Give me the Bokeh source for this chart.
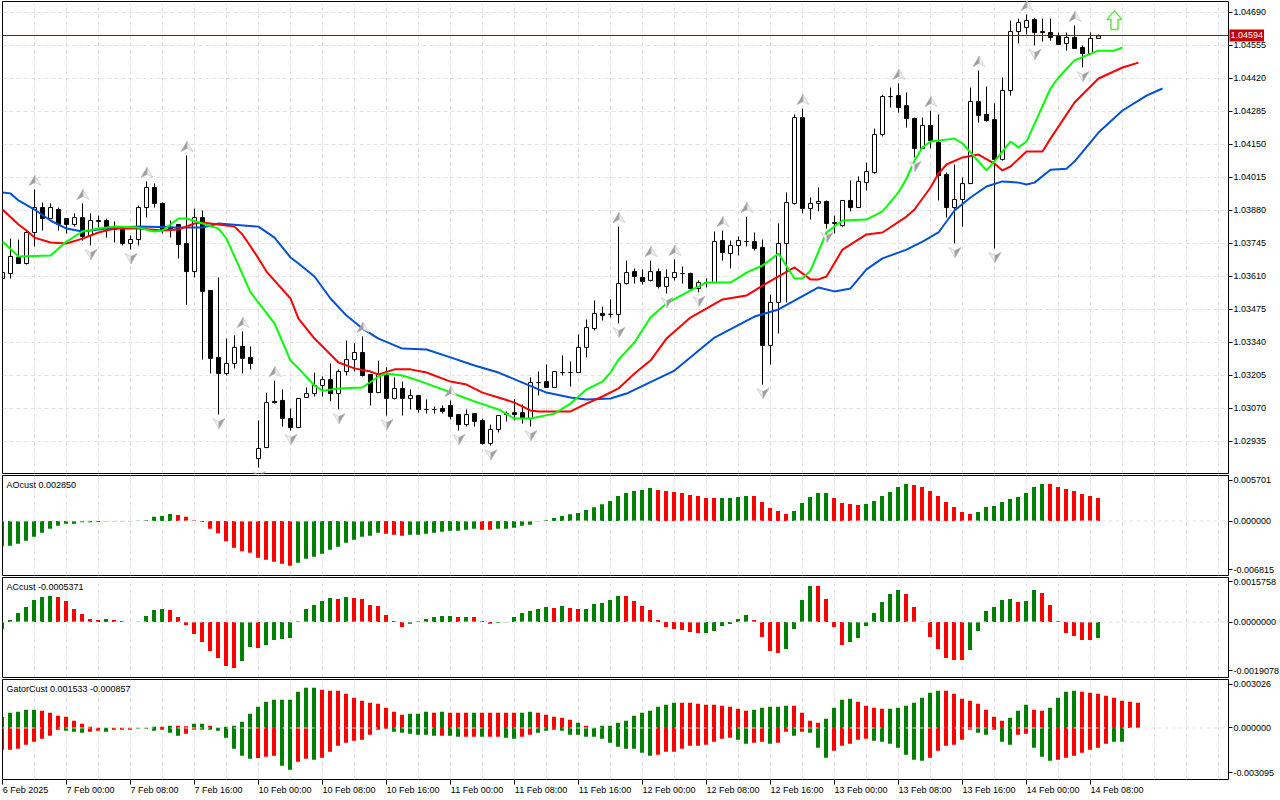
from bokeh.plotting import figure
from bokeh.layouts import column
from bokeh.models import Range1d, FixedTicker, Span, Label, PrintfTickFormatter, LinearAxis
from bokeh.embed import file_html
from bokeh.resources import INLINE

FONT = "Liberation Sans"
FS = "9px"
UP, DOWN = "#008000", "#ff0000"

tick_labels = ["6 Feb 2025", "7 Feb 00:00", "7 Feb 08:00", "7 Feb 16:00", "10 Feb 00:00", "10 Feb 08:00",
               "10 Feb 16:00", "11 Feb 00:00", "11 Feb 08:00", "11 Feb 16:00", "12 Feb 00:00", "12 Feb 08:00",
               "12 Feb 16:00", "13 Feb 00:00", "13 Feb 08:00", "13 Feb 16:00", "14 Feb 00:00", "14 Feb 08:00"]
tick_bars = list(range(0, 137, 8))
grid_bars = list(range(4, 153, 4))
price_ticks = [1.02935, 1.03070, 1.03205, 1.03340, 1.03475, 1.03610, 1.03745, 1.03880, 1.04015, 1.04150,
               1.04285, 1.04420, 1.04555, 1.04690]
last_price = 1.04594
last_line = 1.04596

open_pts = [103602,103622,103688,103663,103790,103892,103847,103884,103847,103823,
 103851,103778,103835,103839,103806,103806,103745,103761,103892,103974,
 103909,103810,103823,103745,103630,103851,103553,103279,103213,103254,
 103324,103279,102865,102910,103099,103103,103029,102992,103115,103131,
 103164,103188,103131,103221,103270,103299,103209,103135,103209,103111,
 103152,103111,103123,103066,103066,103070,103082,103045,103004,103049,
 103021,102927,102984,103045,103053,103053,103029,103176,103180,103156,
 103217,103217,103217,103320,103397,103459,103455,103455,103581,103630,
 103606,103594,103630,103569,103606,103622,103622,103561,103585,103585,
 103757,103704,103737,103753,103753,103729,103328,103504,103745,103909,
 104260,103888,103909,103917,103827,103818,103921,103892,103994,104035,
 104191,104346,104350,104309,104256,104134,104228,104158,104027,103892,
 103925,103990,104326,104273,104252,104089,104371,104612,104629,104661,
 104612,104608,104592,104563,104588,104547,104522,104584]
close_pts = [103626,103692,103663,103790,103892,103847,103892,103823,103823,103851,
 103774,103839,103839,103806,103802,103745,103761,103892,103974,103909,
 103798,103806,103741,103630,103851,103549,103275,103213,103254,103320,
 103275,103254,102906,103094,103094,103029,102992,103111,103131,103164,
 103188,103131,103221,103270,103299,103205,103135,103209,103111,103152,
 103111,103123,103066,103066,103066,103058,103037,103004,103045,103017,
 102927,102984,103041,103049,103045,103029,103176,103176,103156,103221,
 103217,103217,103320,103401,103459,103450,103455,103581,103626,103610,
 103590,103630,103569,103606,103626,103622,103561,103585,103585,103753,
 103708,103737,103757,103753,103725,103328,103504,103745,103913,104260,
 103888,103909,103917,103827,103831,103921,103892,103999,104039,104191,
 104346,104346,104301,104256,104134,104228,104166,104023,103892,103925,
 103990,104326,104269,104248,104089,104371,104612,104649,104657,104608,
 104608,104588,104559,104588,104543,104522,104584,104594]
high_pts = [103634,103765,103761,103798,103966,103913,103909,103892,103847,103868,
 103909,103868,103859,103847,103835,103814,103778,103900,103999,103990,
 103913,103839,103823,104105,103888,103880,103553,103606,103356,103369,
 103385,103324,103021,103135,103184,103148,103070,103111,103156,103217,
 103201,103254,103230,103348,103336,103365,103209,103266,103238,103197,
 103180,103148,103123,103107,103078,103082,103103,103045,103066,103049,
 103029,103004,103041,103058,103107,103086,103197,103221,103250,103221,
 103287,103262,103373,103434,103512,103487,103516,103814,103675,103643,
 103639,103675,103643,103639,103680,103651,103626,103594,103602,103794,
 103798,103757,103774,103855,103790,103761,103536,103827,103954,104273,
 104297,103933,103974,103921,103859,103921,104003,104019,104076,104215,
 104354,104383,104400,104363,104260,104260,104289,104273,104035,104068,
 104015,104383,104453,104387,104318,104424,104657,104665,104682,104669,
 104665,104665,104608,104608,104637,104555,104608,104600]
low_pts = [103594,103602,103663,103659,103733,103798,103847,103798,103786,103814,
 103757,103737,103810,103769,103749,103737,103720,103737,103851,103892,
 103786,103769,103684,103495,103606,103270,103213,103045,103205,103234,
 103213,103230,102828,102910,103090,102996,102980,102992,103115,103119,
 103119,103099,103066,103205,103221,103201,103082,103135,103041,103107,
 103041,103066,103053,103049,103049,103049,103025,102980,102996,102996,
 102923,102918,102972,103017,103021,103008,102996,103123,103156,103156,
 103205,103160,103217,103279,103389,103430,103442,103418,103577,103581,
 103577,103590,103561,103540,103594,103581,103557,103545,103565,103585,
 103675,103643,103696,103733,103716,103168,103250,103377,103504,103904,
 103868,103843,103876,103806,103786,103814,103876,103892,103962,104031,
 104183,104301,104281,104219,104097,104134,104134,103921,103851,103745,
 103814,103990,104240,104244,103725,104084,104350,104563,104600,104555,
 104571,104575,104559,104534,104543,104465,104522,104584]

jaw_bar = [0,1,2,4,6,8,10,13,17,22,25,27,32,34,36,37,39,41,43,45,47,50,53,56,59,62,65,68,71,73,76,78,84,89,94,97,
 102,104,106,108,110,113,115,117,119,121,123,125,127,128,129,131,133,134,137,140,143,145]
jaw_pts = [103954,103950,103921,103884,103839,103806,103794,103806,103814,103810,103810,103827,103814,103769,103688,
 103663,103610,103520,103450,103397,103356,103315,103311,103279,103246,103217,103176,103135,103115,103107,103111,
 103131,103225,103360,103446,103475,103565,103549,103561,103639,103684,103720,103753,103790,103880,103933,103978,
 103999,103994,103986,103994,104047,104051,104080,104199,104289,104350,104379]
teeth_bar = [0,2,3,4,6,8,10,12,14,17,20,22,24,25,29,30,32,33,36,37,38,39,41,42,44,46,47,49,51,53,56,58,60,62,64,66,67,
 71,73,75,77,79,81,83,86,90,93,95,97,99,101,102,103,105,108,110,113,114,116,117,118,120,122,124,125,126,128,130,131,
 134,137,140,142]
teeth_pts = [103884,103823,103798,103769,103749,103745,103765,103790,103806,103806,103798,103802,103827,103831,103814,
 103782,103684,103630,103520,103438,103397,103356,103291,103258,103234,103221,103209,103230,103230,103217,103180,
 103168,103135,103115,103094,103062,103058,103058,103090,103119,103152,103213,103266,103356,103442,103516,103532,
 103573,103610,103647,103598,103598,103610,103720,103782,103790,103855,103884,103974,104031,104068,104097,104109,
 104072,104044,104060,104121,104121,104174,104322,104420,104465,104485]
lips_bar = [0,2,6,8,10,12,14,17,19,20,22,23,25,27,28,29,31,34,36,37,39,40,42,45,47,48,50,52,55,57,59,62,64,66,69,71,73,
 75,76,77,79,81,83,86,88,91,93,95,97,99,100,101,103,105,108,110,112,113,114,115,116,119,120,123,124,126,127,128,131,
 132,134,137,139,140]
lips_pts = [103753,103692,103696,103753,103794,103806,103814,103810,103794,103798,103847,103847,103827,103806,103765,
 103692,103545,103418,103266,103234,103164,103143,103152,103156,103201,103213,103205,103184,103148,103123,103099,
 103066,103029,103029,103049,103090,103148,103180,103217,103270,103340,103442,103500,103553,103585,103585,103626,
 103655,103704,103602,103602,103634,103790,103839,103843,103876,103954,104011,104084,104138,104162,104174,104154,
 104044,104081,104162,104138,104162,104379,104424,104494,104534,104534,104547]

fractal_up_bars = [4,10,18,23,30,34,45,56,77,81,84,90,93,100,112,116,122,128,134]
fractal_down_bars = [11,16,27,32,36,42,48,57,61,66,77,83,87,95,103,114,119,124,129,135]
signal_bar = [139]
signal_pts = [104620]

ao_micro = [-3547,-3453,-3173,-2753,-2193,-1633,-1073,-653,-373,-373,-187,-187,-140,-47,-47,-47,-20,30,93,607,700,980,
 840,607,93,-140,-1073,-1727,-2847,-3733,-4247,-4433,-5133,-5413,-5693,-5973,-6253,-5833,-5273,-4993,-4573,-4013,
 -3593,-3033,-2613,-2193,-2053,-1633,-1773,-1913,-2053,-1913,-1913,-1773,-1633,-1493,-1353,-1353,-1213,-1073,-1213,
 -1213,-1073,-1073,-933,-653,-513,-47,93,420,700,933,1120,1540,1913,2333,2800,3500,3920,4200,4340,4620,4340,4200,
 4060,3920,3640,3500,3220,3220,3220,3220,3360,3500,3500,2660,1820,1400,980,1400,2520,3360,3920,3920,3220,2520,2380,
 2240,2380,2800,3500,4060,4760,5180,5040,4760,4200,3500,2660,1960,1260,980,1260,1960,2100,2660,3080,3360,3920,4760,
 5180,5180,4760,4480,4200,3780,3500,3220]
ao_runs = [("g",15),("r",2),("g",5),("r",15),("g",11),("r",3),("g",9),("r",2),("g",20),("r",8),("g",4),("r",5),("g",5),
 ("r",4),("g",6),("r",8),("g",9),("r",7)]

ac_micro = [-273,78,351,585,858,975,1014,975,819,507,312,117,78,117,78,39,0,13,234,468,507,468,195,-117,-468,-780,-1131,
 -1404,-1716,-1794,-1521,-975,-1014,-897,-702,-663,-624,26,507,663,819,936,897,975,936,897,663,624,273,39,-195,-65,
 26,117,195,234,234,195,195,195,39,-65,-26,-13,195,351,429,507,585,546,624,546,507,507,702,741,858,1014,1014,819,624,
 468,78,-195,-273,-312,-390,-429,-429,-351,-156,-78,117,273,78,-585,-1131,-1209,-1053,-273,858,1404,1404,897,-195,
 -897,-780,-624,-156,351,780,1092,1248,1092,585,13,-585,-1053,-1404,-1482,-1482,-1092,-351,429,585,858,897,780,819,
 1248,1131,663,26,-429,-546,-702,-702,-624]
ac_runs = [("g",7),("r",6),("g",1),("r",3),("g",4),("r",9),("g",2),("r",1),("g",9),("r",1),("g",1),("r",7),("g",6),
 ("r",1),("g",1),("r",3),("g",7),("r",1),("g",1),("r",2),("g",5),("r",10),("g",6),("r",4),("g",4),("r",4),("g",7),
 ("r",8),("g",6),("r",1),("g",2),("r",7),("g",1)]

gator_up_micro = [762,1063,1132,1271,1271,1201,1063,855,785,508,300,92,23,23,23,23,23,23,23,92,92,162,162,116,300,300,
 162,23,92,162,439,993,1478,1825,1964,1964,1964,2518,2795,2795,2657,2587,2587,2379,2102,1894,1756,1686,1409,1132,924,
 993,993,1132,1063,1132,1063,1063,1063,1063,1063,1063,1063,1063,1063,1063,1132,1063,924,785,716,578,370,162,23,162,
 162,370,508,855,1063,1201,1478,1617,1756,1756,1756,1686,1617,1617,1548,1478,1340,1201,1271,1409,1478,1478,1548,1548,
 1063,508,370,647,1409,1964,2033,1825,1548,1409,1340,1340,1409,1548,1756,2102,2449,2587,2587,2379,2033,1894,1686,
 1271,785,508,716,1201,1617,1271,1201,1409,2102,2518,2587,2518,2449,2379,2241,2102,1894,1825,1756]
gator_up_runs = [("g",5),("r",14),("g",1),("r",1),("g",1),("r",2),("g",2),("r",1),("g",13),("r",11),("g",3),("r",1),
 ("g",1),("r",3),("g",1),("r",5),("g",2),("r",5),("g",1),("r",1),("g",11),("r",9),("g",5),("r",4),("g",4),("r",4),
 ("g",7),("r",8),("g",3),("r",2),("g",4),("r",8)]
gator_down_micro = [-1502,-1502,-1432,-1155,-947,-739,-531,-116,-185,-254,-323,-254,-185,-254,-116,-116,-116,-46,-46,
 -185,-116,-323,-531,-393,-116,-116,-116,-185,-670,-1432,-1917,-2125,-2079,-1987,-1917,-2610,-2888,-2333,-2125,-2195,
 -2056,-1640,-1224,-1016,-878,-809,-462,-116,-46,-254,-323,-393,-462,-462,-531,-531,-531,-601,-601,-601,-601,-601,
 -601,-670,-739,-601,-462,-323,-185,-116,-185,-462,-462,-601,-601,-739,-1016,-1294,-1432,-1432,-1709,-1917,-1848,
 -1640,-1640,-1432,-1224,-1224,-1155,-947,-739,-670,-809,-1086,-1016,-947,-1086,-1016,-254,-531,-254,-323,-1363,
 -2056,-1571,-1224,-1086,-809,-739,-878,-947,-1086,-1363,-1848,-2195,-2264,-2056,-1571,-1224,-1155,-809,-116,-323,
 -462,-116,-947,-1155,-462,-393,-1363,-1987,-2264,-2195,-2056,-1917,-1709,-1502,-1363,-1086,-947,-947]
gator_down_runs = [("r",8),("g",3),("r",2),("g",1),("r",3),("g",3),("r",1),("g",2),("r",2),("g",7),("r",3),("g",2),("r",2),
 ("g",1),("r",9),("g",6),("r",1),("g",2),("r",2),("g",1),("r",2),("g",2),("r",2),("g",2),("r",1),("g",12),("r",10),
 ("g",2),("r",2),("g",1),("r",2),("g",1),("r",1),("g",3),("r",5),("g",7),("r",6),("g",2),("r",1),("g",2),("r",2),
 ("g",3),("r",7),("g",2)]


def expand(runs):
    out = []
    for c, n in runs:
        out += [UP if c == "g" else DOWN] * n
    return out


PX_PER_BAR = 8.0
x_range = Range1d(0.0, 153.25)


def panel(height, y_range, top=1, bottom=1):
    p = figure(frame_width=1226, frame_height=height - top - bottom, x_range=x_range, y_range=y_range,
               output_backend="svg", toolbar_location=None, x_axis_location=None, y_axis_location="right",
               min_border_left=2, min_border_right=52, min_border_top=top, min_border_bottom=bottom)
    p.outline_line_color = "black"
    p.outline_line_width = 1
    p.background_fill_color = "white"
    p.xgrid.ticker = FixedTicker(ticks=grid_bars)
    p.xgrid.grid_line_color = "#e3e3e3"
    p.xgrid.grid_line_dash = "4 3"
    p.ygrid.grid_line_color = None
    ax = p.yaxis[0]
    ax.axis_line_color = None
    ax.major_tick_line_color = "black"
    ax.major_tick_in = 0
    ax.major_tick_out = 4
    ax.minor_tick_line_color = None
    ax.major_label_standoff = 1
    ax.major_label_text_font = FONT
    ax.major_label_text_font_size = FS
    ax.major_label_text_color = "black"
    return p


def caption(p, text, y):
    p.add_layout(Label(x=4, y=y, x_units="screen", y_units="screen", text=text, text_font=FONT,
                       text_font_size=FS, text_color="black", text_baseline="middle"))


def zero_line(p):
    p.add_layout(Span(location=0, dimension="width", line_color="#e3e3e3", line_dash="4 3", line_width=1,
                      level="overlay"))


def bars(p, values, colors):
    bx = [i - 0.0625 for i in range(len(values))]
    p.vbar(x=bx, top=[v * 1e-6 for v in values], bottom=0, width=0.5, fill_color=colors, line_color=None)


# ---- main price panel
main_range = Range1d(1.02804, 1.04735)
p1 = panel(474, main_range)
ax = p1.yaxis[0]
ax.ticker = FixedTicker(ticks=price_ticks)
ax.formatter = PrintfTickFormatter(format="%.5f")
p1.ygrid.ticker = FixedTicker(ticks=price_ticks)
p1.ygrid.grid_line_color = "#e3e3e3"
p1.ygrid.grid_line_dash = "4 3"

opens = [v / 1e5 for v in open_pts]
closes = [v / 1e5 for v in close_pts]
highs = [v / 1e5 for v in high_pts]
lows = [v / 1e5 for v in low_pts]
idx = list(range(len(opens)))
fills = ["white" if c >= o else "black" for o, c in zip(opens, closes)]
p1.segment(x0=idx, x1=idx, y0=lows, y1=highs, line_color="black", line_width=1)
p1.vbar(x=idx, top=[max(o, c) for o, c in zip(opens, closes)], bottom=[min(o, c) for o, c in zip(opens, closes)],
        width=0.5, fill_color=fills, line_color="black", line_width=1)

p1.line(jaw_bar, [v / 1e5 for v in jaw_pts], line_color="#0050d8", line_width=2)
p1.line(teeth_bar, [v / 1e5 for v in teeth_pts], line_color="#ff0000", line_width=2)
p1.line(lips_bar, [v / 1e5 for v in lips_pts], line_color="#00ff00", line_width=2)

per_px = (main_range.end - main_range.start) / 472.0


def head(bar, price, side, sign):
    # half an arrowhead; sign +1 sits above the high, -1 sits below the low (offsets in pixels)
    pts = [(0, 14), (side * 6, 4), (0, 7)]
    xs = [bar + 0.06 + dx / PX_PER_BAR for dx, dy in pts]
    ys = [price + sign * dy * per_px for dx, dy in pts]
    return xs, ys


dark_x, dark_y, light_x, light_y = [], [], [], []
for b in fractal_up_bars:
    a = head(b, highs[b], -1, 1)
    dark_x.append(a[0]); dark_y.append(a[1])
    a = head(b, highs[b], 1, 1)
    light_x.append(a[0]); light_y.append(a[1])
for b in fractal_down_bars:
    a = head(b, lows[b], -1, -1)
    light_x.append(a[0]); light_y.append(a[1])
    a = head(b, lows[b], 1, -1)
    dark_x.append(a[0]); dark_y.append(a[1])
p1.patches(light_x, light_y, fill_color="#eeeeee", line_color="#c8c8c8", line_width=0.7)
p1.patches(dark_x, dark_y, fill_color="#9c9c9c", line_color="#b0b0b0", line_width=0.7)

shape = [(0, -19), (7.5, -10), (3.5, -10), (3.5, 0), (-3.5, 0), (-3.5, -10), (-7.5, -10)]
p1.patch([signal_bar[0] + dx / PX_PER_BAR for dx, dy in shape],
         [signal_pts[0] / 1e5 - dy * per_px for dx, dy in shape],
         fill_color="white", line_color="#66e64d", line_width=1.5)

p1.add_layout(Span(location=last_line, dimension="width", line_color="#a80000", line_width=1))
p1.add_layout(Label(x=-40, y=last_line, x_units="screen", y_units="data", text="%.5f" % last_price,
                    text_font=FONT, text_font_size=FS, text_color="white", text_baseline="middle",
                    background_fill_color="#c40000", padding=(1, 3)), "right")

# ---- AO
p2 = panel(102, Range1d(-0.00763, 0.00637))
p2.yaxis[0].ticker = FixedTicker(ticks=[-0.006815, 0.0, 0.005701])
p2.yaxis[0].formatter = PrintfTickFormatter(format="%.6f")
bars(p2, ao_micro, expand(ao_runs))
zero_line(p2)
caption(p2, "AOcust 0.002850", 90.7)

# ---- AC
p3 = panel(102, Range1d(-0.0021645, 0.0017355))
p3.yaxis[0].ticker = FixedTicker(ticks=[-0.0019078, 0.0, 0.0015758])
p3.yaxis[0].formatter = PrintfTickFormatter(format="%.7f")
bars(p3, ac_micro, expand(ac_runs))
zero_line(p3)
caption(p3, "ACcust -0.0005371", 90.3)

# ---- Gator
p4 = panel(122, Range1d(-0.003569, 0.003361), bottom=21)
p4.yaxis[0].ticker = FixedTicker(ticks=[-0.003095, 0.0, 0.003026])
p4.yaxis[0].formatter = PrintfTickFormatter(format="%.6f")
bars(p4, gator_up_micro, expand(gator_up_runs))
bars(p4, gator_down_micro, expand(gator_down_runs))
zero_line(p4)
caption(p4, "GatorCust 0.001533 -0.000857", 90.7)

# Time axis: the labels start at their tick, so each sits half its own width to the right of the minor tick.
half_width_px = {10: 23.0, 11: 24.0, 12: 26.5}
label_at = [b + half_width_px[len(t)] / PX_PER_BAR for b, t in zip(tick_bars, tick_labels)]
axis = LinearAxis(ticker=FixedTicker(ticks=label_at, minor_ticks=tick_bars),
                  major_label_overrides=dict(zip(label_at, tick_labels)),
                  major_label_text_font=FONT, major_label_text_font_size=FS, major_label_text_color="black",
                  major_tick_in=0, major_tick_out=5, major_tick_line_color=None, major_label_standoff=0,
                  minor_tick_in=0, minor_tick_out=5, minor_tick_line_color="black", axis_line_color=None)
p4.add_layout(axis, "below")

root = column(p1, p2, p3, p4, spacing=0)
open("out.html", "w").write(file_html(root, INLINE))
